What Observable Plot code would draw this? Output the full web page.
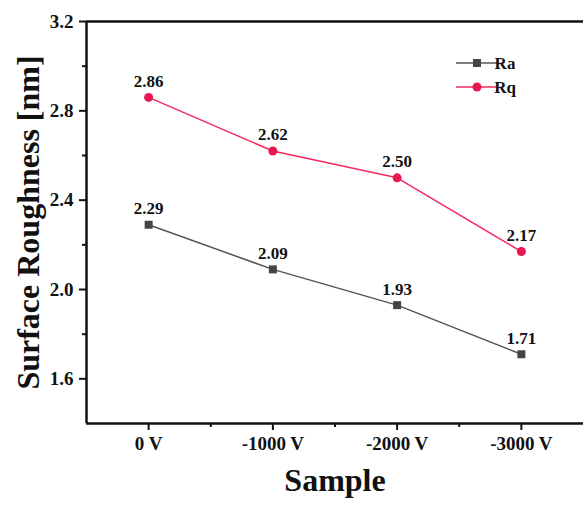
<!DOCTYPE html>
<html>
<head>
<meta charset="utf-8">
<script src="https://cdn.jsdelivr.net/npm/d3@7"></script>
<script src="https://cdn.jsdelivr.net/npm/@observablehq/plot@0.6"></script>
<style>
  html, body { margin: 0; padding: 0; background: #fff; }
  #chart { position: relative; width: 583px; height: 509px; }
</style>
</head>
<body>
<div id="chart"></div>
<script>
const samples = ["0 V", "-1000 V", "-2000 V", "-3000 V"];
const raValues = [2.29, 2.09, 1.93, 1.71];
const rqValues = [2.86, 2.62, 2.50, 2.17];
const yTicks = [1.6, 2.0, 2.4, 2.8, 3.2];
const yMinor = [1.8, 2.2, 2.6, 3.0];
const seriesNames = ["Ra", "Rq"];

const raColor = "#555555", raMarker = "#444444";
const rqColor = "#f5285f", rqMarker = "#e8174f";

const ra = samples.map((s, i) => ({i, s, v: raValues[i]}));
const rq = samples.map((s, i) => ({i, s, v: rqValues[i]}));

const font = "'Liberation Serif', 'Times New Roman', serif";

const plot = Plot.plot({
  width: 583, height: 509,
  marginLeft: 86, marginTop: 21, marginBottom: 86, marginRight: 0,
  style: {fontFamily: font, fontWeight: "bold", color: "#111", background: "#fff"},
  x: {domain: [-0.5, 3.5]},
  y: {domain: [1.4, 3.2]},
  marks: [
    Plot.axisY({ticks: yTicks, tickSize: 7, tickPadding: 6, strokeWidth: 2, fontSize: 19, tickFormat: d => d.toFixed(1), label: null}),
    Plot.axisY({ticks: yMinor, tickSize: 4, strokeWidth: 2, tickFormat: () => "", label: null}),
    Plot.axisX({ticks: [0, 1, 2, 3], tickSize: 7, tickPadding: 6, strokeWidth: 2, fontSize: 19, tickFormat: d => samples[d], label: null}),
    Plot.axisX({ticks: [0.5, 1.5, 2.5], tickSize: 4, strokeWidth: 2, tickFormat: () => "", label: null}),
    Plot.ruleX([-0.5], {strokeWidth: 2.5, stroke: "#111"}),
    Plot.ruleY([1.4], {strokeWidth: 2.5, stroke: "#111"}),
    Plot.ruleY([3.2], {strokeWidth: 2.5, stroke: "#111"}),
    Plot.line(ra, {x: "i", y: "v", stroke: raColor, strokeWidth: 1.5}),
    Plot.line(rq, {x: "i", y: "v", stroke: rqColor, strokeWidth: 1.5}),
    Plot.dot(ra, {x: "i", y: "v", symbol: "square", r: 4.5, fill: raMarker, stroke: "none"}),
    Plot.dot(rq, {x: "i", y: "v", symbol: "circle", r: 4.5, fill: rqMarker, stroke: "none"}),
    Plot.text(ra, {x: "i", y: "v", text: d => d.v.toFixed(2), dy: -16, fontSize: 17, fontWeight: "bold", fill: "#111"}),
    Plot.text(rq, {x: "i", y: "v", text: d => d.v.toFixed(2), dy: -16, fontSize: 17, fontWeight: "bold", fill: "#111"}),
    Plot.text(["Sample"], {frameAnchor: "bottom", dy: 67, fontSize: 32, fontWeight: "bold", fill: "#111"}),
    Plot.text(["Surface Roughness [nm]"], {frameAnchor: "left", textAnchor: "middle", dx: -58, rotate: -90, fontSize: 32, fontWeight: "bold", fill: "#111"})
  ]
});

document.getElementById("chart").appendChild(plot);

// legend
const svg = d3.select(plot);
const legend = svg.append("g").attr("font-family", font).attr("font-weight", "bold").attr("font-size", 17);
const legendItems = [
  {name: seriesNames[0], line: raColor, marker: raMarker, shape: "square"},
  {name: seriesNames[1], line: rqColor, marker: rqMarker, shape: "circle"}
];
legendItems.forEach((d, k) => {
  const y = 63 + k * 24;
  const g = legend.append("g").attr("transform", `translate(456,${y})`);
  g.append("line").attr("x1", 0).attr("x2", 42).attr("y1", 0).attr("y2", 0).attr("stroke", d.line).attr("stroke-width", 1.5);
  if (d.shape === "square") {
    g.append("rect").attr("x", 17).attr("y", -4).attr("width", 8).attr("height", 8).attr("fill", d.marker);
  } else {
    g.append("circle").attr("cx", 21).attr("cy", 0).attr("r", 4.5).attr("fill", d.marker);
  }
  g.append("text").attr("x", 49).attr("y", 0).attr("dy", "0.35em").attr("fill", "#111").text(d.name);
});
</script>
</body>
</html>
